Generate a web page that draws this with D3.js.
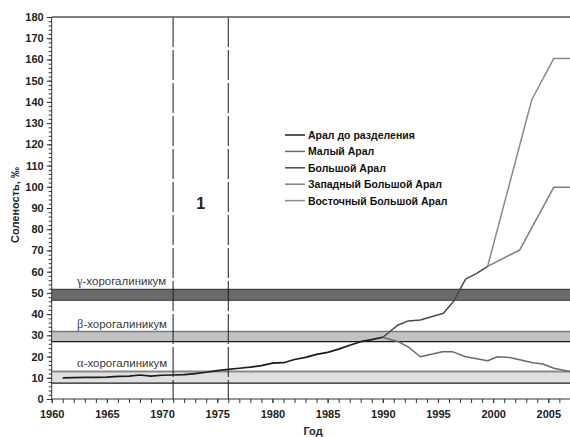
<!DOCTYPE html>
<html>
<head>
<meta charset="utf-8">
<script src="https://cdn.jsdelivr.net/npm/d3@7/dist/d3.min.js"></script>
<style>
  html, body { margin: 0; padding: 0; background: #fff; overflow: hidden; }
  svg { display: block; font-family: "Liberation Sans", Arial, sans-serif; }
</style>
</head>
<body>
<svg id="chart" width="570" height="437"></svg>
<script>
// Salinity of the Aral Sea and its parts, ‰
const preSplitYears = [1961,1962,1963,1964,1965,1966,1967,1968,1969,1970,1971,1972,1973,1974,1975,
                       1976,1977,1978,1979,1980,1981,1982,1983,1984,1985,1986,1987,1988,1989,1990];
const preSplitValues = [10.0,10.1,10.2,10.2,10.3,10.7,10.8,11.3,10.8,11.2,11.3,11.5,12.0,12.6,13.4,
                        14.0,14.5,15.0,15.7,16.9,17.1,18.6,19.6,21.0,22.0,23.5,25.3,27.0,28.0,29.1];

const smallYears  = [1990,1991.4,1992.3,1993.4,1995.4,1996.3,1997.5,1999.5,2000.4,2001.5,2003.6,2004.5,2005.5,2007];
const smallValues = [29.1,27.0,24.6,19.9,22.3,22.3,19.9,18.0,19.9,19.6,17.1,16.5,14.5,12.9];

const largeYears  = [1990,1991.4,1992.3,1993.4,1995.5,1996.4,1997.5,1998.5,1999.5];
const largeValues = [29.1,34.9,36.8,37.2,40.4,45.9,56.5,59.2,62.5];

const westYears  = [1999.5,2002.4,2005.5,2007];
const westValues = [62.5,70.2,99.8,99.8];

const eastYears  = [1999.5,2003.5,2005.5,2007];
const eastValues = [62.5,141.0,160.5,160.5];

const seriesNames = ["Арал до разделения","Малый Арал","Большой Арал","Западный Большой Арал","Восточный Большой Арал"];
const seriesColors = ["#1c1c1c","#6a6a6a","#4a4a4a","#7e7e7e","#8a8a8a"];

// Salinity zones (lower, upper bound) and their labels
const zoneNames  = ["α","β","γ"];
const zoneLow    = [7.5, 27.0, 46.5];
const zoneHigh   = [13.0, 31.8, 51.7];
const zoneFill   = ["#e0e0e0","#c2c2c2","#6a6a6a"];
const zoneTop    = ["#8a8a8a","#7a7a7a","#444444"];
const zoneBottom = ["#1a1a1a","#1a1a1a","#555555"];

// Marked period
const periodYears = [1971, 1976];
const periodLabel = "1";

const yMajorTicks = d3.range(0, 181, 10);
const xMajorTicks = d3.range(1960, 2006, 5);

const svg = d3.select("#chart");
const W = 570, H = 437;
const x = d3.scaleLinear().domain([1960, 2007]).range([51.7, 570.4]);
const y = d3.scaleLinear().domain([0, 180]).range([399, 17]);

svg.append("defs").append("clipPath").attr("id", "plot")
  .append("rect").attr("x", x(1960)).attr("y", y(180) - 2)
  .attr("width", x(2007) - x(1960)).attr("height", y(0) - y(180) + 4);

// zone bands
const zones = svg.append("g");
zoneNames.forEach((n, i) => {
  const y0 = y(zoneHigh[i]), y1 = y(zoneLow[i]);
  zones.append("rect").attr("x", x(1960)).attr("y", y0)
    .attr("width", W - x(1960)).attr("height", y1 - y0).attr("fill", zoneFill[i]);
  zones.append("line").attr("x1", x(1960)).attr("x2", W).attr("y1", y0).attr("y2", y0)
    .attr("stroke", zoneTop[i]).attr("stroke-width", i === 0 ? 2 : 1.3);
  zones.append("line").attr("x1", x(1960)).attr("x2", W).attr("y1", y1).attr("y2", y1)
    .attr("stroke", zoneBottom[i]).attr("stroke-width", 1.2);
  const t = zones.append("text").attr("x", 77).attr("y", y0 - 4)
    .attr("font-size", 11.5).attr("fill", "#3a3a3a");
  t.append("tspan").attr("font-family", "'Liberation Serif', serif").attr("font-size", 12.5).text(n);
  t.append("tspan").text("-хорогалиникум");
});

// period boundaries
periodYears.forEach(yr => {
  svg.append("line").attr("x1", x(yr)).attr("x2", x(yr))
    .attr("y1", y(180)).attr("y2", y(0))
    .attr("stroke", "#1a1a1a").attr("stroke-width", 1)
    .attr("stroke-dasharray", "30,3");
});
svg.append("text").attr("x", (x(periodYears[0]) + x(periodYears[1])) / 2).attr("y", 208.5)
  .attr("text-anchor", "middle").attr("font-size", 16).attr("font-weight", "bold")
  .attr("fill", "#222").text(periodLabel);

// top frame line
svg.append("line").attr("x1", x(1960)).attr("x2", W).attr("y1", y(180)).attr("y2", y(180))
  .attr("stroke", "#555").attr("stroke-width", 1.5);

// axes
const yAxisMinor = d3.axisLeft(y).tickValues(d3.range(0, 181, 2)).tickSize(3).tickFormat("");
const yAxis = d3.axisLeft(y).tickValues(yMajorTicks).tickSize(5).tickPadding(3);
const xAxisMinor = d3.axisBottom(x).tickValues(d3.range(1960, 2007, 1)).tickSize(4).tickFormat("");
const xAxis = d3.axisBottom(x).tickValues(xMajorTicks).tickSize(4).tickPadding(7).tickFormat(d3.format("d"));

function styleAxis(g) {
  g.select(".domain").remove();
  g.selectAll("line").attr("stroke", "#333");
  g.selectAll("text").attr("font-size", 11).attr("font-weight", "bold").attr("fill", "#222")
    .attr("font-family", "'Liberation Sans', Arial, sans-serif");
}
svg.append("g").attr("transform", `translate(${x(1960)},0)`).call(yAxisMinor).call(styleAxis);
svg.append("g").attr("transform", `translate(${x(1960)},0)`).call(yAxis).call(styleAxis);
svg.append("g").attr("transform", `translate(0,${y(0)})`).call(xAxisMinor).call(styleAxis);
svg.append("g").attr("transform", `translate(0,${y(0)})`).call(xAxis).call(styleAxis);
svg.append("line").attr("x1", x(1960)).attr("x2", x(1960)).attr("y1", y(180)).attr("y2", y(0))
  .attr("stroke", "#333").attr("stroke-width", 1);
svg.append("line").attr("x1", x(1960)).attr("x2", W).attr("y1", y(0)).attr("y2", y(0))
  .attr("stroke", "#333").attr("stroke-width", 1);

// axis titles
svg.append("text").attr("transform", "translate(19,205) rotate(-90)")
  .attr("text-anchor", "middle").attr("font-size", 11).attr("font-weight", "bold").attr("fill", "#222")
  .text("Соленость, ‰");
svg.append("text").attr("x", 313).attr("y", 435).attr("text-anchor", "middle")
  .attr("font-size", 11).attr("font-weight", "bold").attr("fill", "#222").text("Год");

// salinity series
const seriesData = [
  [preSplitYears, preSplitValues],
  [smallYears, smallValues],
  [largeYears, largeValues],
  [westYears, westValues],
  [eastYears, eastValues]
];
const line = d3.line().x(d => x(d[0])).y(d => y(d[1]));
const lines = svg.append("g").attr("clip-path", "url(#plot)");
[1, 3, 4, 2, 0].forEach(i => {
  const [ys, vs] = seriesData[i];
  lines.append("path").datum(ys.map((yr, k) => [yr, vs[k]]))
    .attr("d", line).attr("fill", "none")
    .attr("stroke", seriesColors[i]).attr("stroke-width", i === 0 ? 1.7 : 1.5)
    .attr("stroke-linejoin", "round");
});

// legend
const legend = svg.append("g").attr("transform", "translate(285,135)");
seriesNames.forEach((n, i) => {
  const g = legend.append("g").attr("transform", `translate(0,${i * 16.4})`);
  g.append("line").attr("x1", 0).attr("x2", 20).attr("y1", 0).attr("y2", 0)
    .attr("stroke", seriesColors[i]).attr("stroke-width", 1.5);
  g.append("text").attr("x", 23).attr("y", 3.9).attr("font-size", 10.5).attr("font-weight", "bold")
    .attr("fill", "#111").text(n);
});
</script>
</body>
</html>
